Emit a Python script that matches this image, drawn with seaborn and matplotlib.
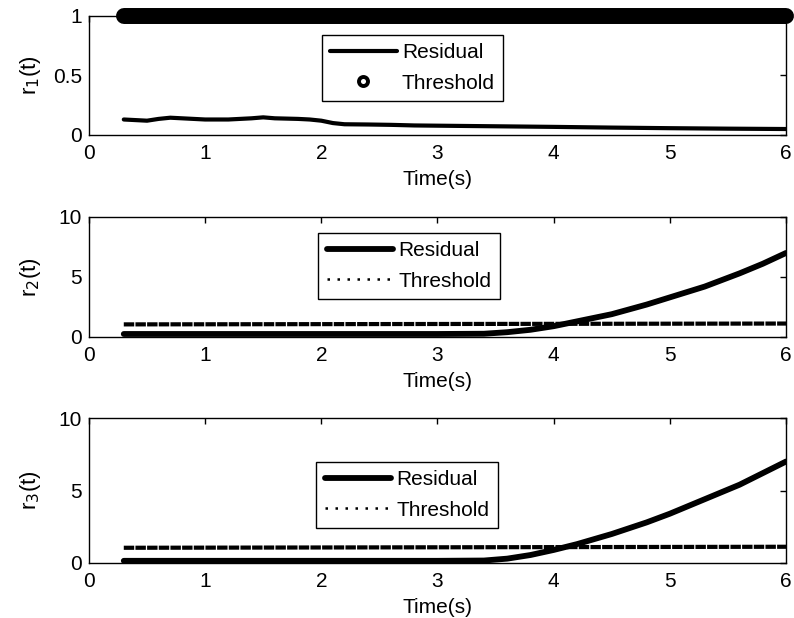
import numpy as np
import pandas as pd
import matplotlib
matplotlib.use("Agg")
import matplotlib.pyplot as plt
import seaborn as sns

# Axis ticks
x_ticks = [0, 1, 2, 3, 4, 5, 6]
y_ticks_r1 = [0, 0.5, 1]
y_ticks_r23 = [0, 5, 10]

# Residual 1 and its threshold
t_r1 = [0.3, 0.4, 0.5, 0.6, 0.7, 0.8, 0.9, 1.0, 1.2, 1.4, 1.5, 1.6, 1.8, 1.9,
        2.0, 2.1, 2.2, 2.4, 2.6, 2.8, 3.0, 3.3, 3.6, 4.0, 4.5, 5.0, 5.5, 6.0]
r1 = [0.13, 0.125, 0.12, 0.135, 0.145, 0.14, 0.135, 0.13, 0.13, 0.14, 0.148,
      0.14, 0.135, 0.13, 0.12, 0.10, 0.09, 0.088, 0.085, 0.08, 0.078, 0.075,
      0.072, 0.068, 0.062, 0.057, 0.053, 0.05]
t_thr1 = [0.3, 6.0]
thr1 = [1.0, 1.0]

# Residual 2 and its threshold
t_r2 = [0.3, 1.0, 2.0, 3.0, 3.4, 3.6, 3.8, 4.0, 4.2, 4.5, 4.8, 5.0, 5.3, 5.6, 5.8, 6.0]
r2 = [0.25, 0.25, 0.25, 0.25, 0.27, 0.4, 0.6, 0.9, 1.3, 1.9, 2.7, 3.3, 4.2, 5.3, 6.1, 7.0]
t_thr2 = [0.3, 6.0]
thr2 = [1.05, 1.12]

# Residual 3 and its threshold
t_r3 = [0.3, 1.0, 2.0, 3.0, 3.4, 3.6, 3.8, 4.0, 4.2, 4.5, 4.8, 5.0, 5.3, 5.6, 5.8, 6.0]
r3 = [0.15, 0.15, 0.15, 0.15, 0.17, 0.3, 0.55, 0.9, 1.3, 2.0, 2.8, 3.4, 4.4, 5.4, 6.2, 7.0]
t_thr3 = [0.3, 6.0]
thr3 = [1.05, 1.12]

sns.set_theme(style="white")
plt.rcParams["font.family"] = ["Liberation Sans", "DejaVu Sans"]
plt.rcParams.update({
    "axes.edgecolor": "black",
    "axes.linewidth": 1.0,
    "xtick.direction": "in",
    "ytick.direction": "in",
    "xtick.top": True,
    "ytick.right": True,
    "xtick.major.size": 4,
    "ytick.major.size": 4,
    "xtick.major.width": 1.0,
    "ytick.major.width": 1.0,
    "xtick.color": "black",
    "ytick.color": "black",
    "xtick.labelsize": 15,
    "ytick.labelsize": 15,
    "text.color": "black",
    "axes.labelcolor": "black",
})

fig = plt.figure(figsize=(7.94, 6.18), dpi=100)
ax1 = fig.add_axes([0.112, 0.7816, 0.878, 0.1926])
ax2 = fig.add_axes([0.112, 0.4547, 0.878, 0.1943])
ax3 = fig.add_axes([0.112, 0.0890, 0.878, 0.2346])

# very tight dots: the threshold reads almost as a solid line
thr_dots = (0, (2.5, 0.3))

# --- Panel 1 ---
# the circle-marked threshold is so densely sampled it reads as one thick band
sns.lineplot(data=pd.DataFrame({"t": t_r1, "v": r1}), x="t", y="v", ax=ax1,
             color="black", linewidth=3.0, label="Residual")
sns.lineplot(data=pd.DataFrame({"t": t_thr1, "v": thr1}), x="t", y="v", ax=ax1,
             color="black", linestyle="-", linewidth=11.5,
             solid_capstyle="round", clip_on=False, label="Threshold")
ax1.set_ylim(0, 1)
ax1.set_yticks(y_ticks_r1)
ax1.set_yticklabels(["0", "0.5", "1"])
ax1.set_ylabel(r"r$_1$(t)", fontsize=16)

# --- Panel 2 ---
sns.lineplot(data=pd.DataFrame({"t": t_r2, "v": r2}), x="t", y="v", ax=ax2,
             color="black", linewidth=4.2, label="Residual")
sns.lineplot(data=pd.DataFrame({"t": t_thr2, "v": thr2}), x="t", y="v", ax=ax2,
             color="black", linewidth=3.0, linestyle=thr_dots,
             label="Threshold")
ax2.set_ylim(0, 10)
ax2.set_yticks(y_ticks_r23)
ax2.set_ylabel(r"r$_2$(t)", fontsize=16)

# --- Panel 3 ---
sns.lineplot(data=pd.DataFrame({"t": t_r3, "v": r3}), x="t", y="v", ax=ax3,
             color="black", linewidth=4.2, label="Residual")
sns.lineplot(data=pd.DataFrame({"t": t_thr3, "v": thr3}), x="t", y="v", ax=ax3,
             color="black", linewidth=3.0, linestyle=thr_dots,
             label="Threshold")
ax3.set_ylim(0, 10)
ax3.set_yticks(y_ticks_r23)
ax3.set_ylabel(r"r$_3$(t)", fontsize=16)

legend_anchor = {ax1: (0.334, 0.84), ax2: (0.329, 0.867), ax3: (0.326, 0.697)}

for ax in (ax1, ax2, ax3):
    ax.set_xlim(0, 6)
    ax.set_xticks(x_ticks)
    ax.set_xlabel("Time(s)", fontsize=15, labelpad=5)
    ax.tick_params(axis="x", pad=6.5)
    ax.tick_params(axis="y", pad=5)
    ax.yaxis.set_label_coords(-0.066, 0.5)
    for s in ax.spines.values():
        s.set_visible(True)
        s.set_color("black")
    leg = ax.legend(loc="upper left", bbox_to_anchor=legend_anchor[ax],
                    fontsize=15, frameon=True, fancybox=False, edgecolor="black",
                    framealpha=1, handlelength=3.2, handletextpad=0.25,
                    borderpad=0.4, labelspacing=0.55, borderaxespad=0)
    leg.get_frame().set_linewidth(1.0)
    hl = leg.get_lines()[1]
    if ax is ax1:
        # open circle marker in the key
        hl.set_linestyle("none")
        hl.set_marker("o")
        hl.set_markerfacecolor("white")
        hl.set_markeredgecolor("black")
        hl.set_markersize(6.5)
        hl.set_markeredgewidth(2.8)
    else:
        hl.set_linestyle((0, (1, 3)))
        hl.set_linewidth(1.8)

fig.savefig("out.png", dpi=100)
